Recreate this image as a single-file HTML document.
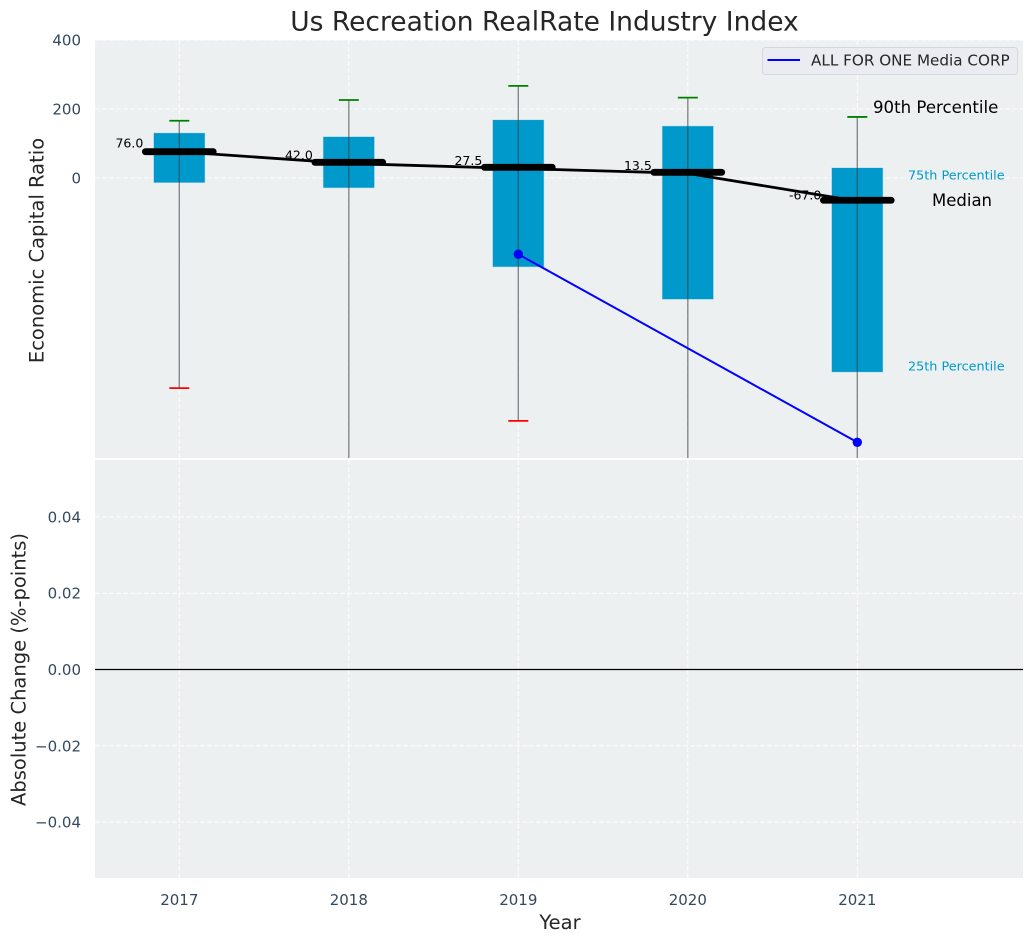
<!DOCTYPE html>
<html lang="en">
<head>
<meta charset="utf-8">
<title>Us Recreation RealRate Industry Index</title>
<style>
html,body{margin:0;padding:0;background:#fff;width:1034px;height:942px;overflow:hidden}
svg{display:block;font-family:"DejaVu Sans","Liberation Sans",sans-serif}
</style>
</head>
<body>
<svg id="chart" xmlns="http://www.w3.org/2000/svg" width="1034" height="942" viewBox="0 0 1034 942">
  <defs>
    <clipPath id="top-clip"><rect x="95" y="40" width="928" height="418"/></clipPath>
  </defs>
  <rect x="95" y="40" width="928" height="418" fill="#ecf0f1"/>
  <rect x="95" y="460" width="928" height="418" fill="#ecf0f1"/>
  <g id="grid"></g>
  <g id="plot" clip-path="url(#top-clip)"></g>
  <g id="bottom"></g>
  <g id="ticks"></g>

  <text x="544.5" y="30.5" text-anchor="middle" font-size="26.5px" fill="#262626">Us Recreation RealRate Industry Index</text>
  <text transform="translate(43.5,250.5) rotate(-90)" text-anchor="middle" font-size="19.5px" fill="#262626">Economic Capital Ratio</text>
  <text transform="translate(25.5,669.5) rotate(-90)" text-anchor="middle" font-size="19.5px" fill="#262626">Absolute Change (%-points)</text>
  <text x="560" y="929" text-anchor="middle" font-size="19.5px" fill="#262626">Year</text>

  <text x="873" y="113" font-size="16.6px" fill="#000">90th Percentile</text>
  <text x="908" y="179.5" font-size="12.8px" fill="#0099cc">75th Percentile</text>
  <text x="932" y="206" font-size="16.5px" fill="#000">Median</text>
  <text x="908" y="370.5" font-size="12.8px" fill="#0099cc">25th Percentile</text>

  <g>
    <rect x="762.5" y="47.5" width="255" height="27" rx="3" fill="#eaecf1" stroke="#d6d8dc" stroke-width="1"/>
    <line x1="767.5" x2="800" y1="60" y2="60" stroke="#0000ff" stroke-width="2"/>
    <text x="811" y="65.5" font-size="15.2px" fill="#262626">ALL FOR ONE Media CORP</text>
  </g>
</svg>
<script>
// ---- chart data ----
const years = [2017, 2018, 2019, 2020, 2021];
const p90 = [166, 226, 267, 233, 177];
const p75 = [130, 119, 168, 150, 29];
const medians = [76.2, 45.5, 31, 16.5, -64.6];
const trendValues = [76, 42, 27.5, 13.5, -67];
const trendLabels = ["76.0", "42.0", "27.5", "13.5", "-67.0"];
const p25 = [-13, -28, -257, -351, -562];
const p10 = [-609, -900, -704, -900, -900];
const companyValues = [null, null, -221, null, -766];
const topTicks = [400, 200, 0];
const bottomTicks = [0.04, 0.02, 0, -0.02, -0.04];
const bottomTickLabels = ["0.04", "0.02", "0.00", "\u22120.02", "\u22120.04"];

// ---- axis functions ----
const NS = "http://www.w3.org/2000/svg";
const xScale = v => 179.3 + (v - 2017) * 169.5;
const yTop = v => 178 - v * 0.345;
const yBottom = v => 669.5 - v * 3815;

function make(parent, tag, attrs, text) {
  const el = document.createElementNS(NS, tag);
  for (const k in attrs) el.setAttribute(k, attrs[k]);
  if (text !== undefined) el.textContent = text;
  parent.appendChild(el);
  return el;
}
const grid = document.getElementById("grid");
const plot = document.getElementById("plot");
const bottom = document.getElementById("bottom");
const ticks = document.getElementById("ticks");
const gridStyle = {stroke: "#ffffff", "stroke-width": 1, "stroke-dasharray": "5,2", opacity: 0.9};

// grid and tick labels
years.forEach(y => {
  const x = xScale(y);
  const a = make(grid, "line", {x1: x, x2: x, y1: 40, y2: 458, ...gridStyle});
  
  
  const b = make(grid, "line", {x1: x, x2: x, y1: 460, y2: 878, ...gridStyle});
  
  
  const t = make(ticks, "text", {x: x, y: 905, "text-anchor": "middle", "font-size": "15px", fill: "#34495e"}, String(y));
  
  
});
topTicks.forEach(v => {
  const y = yTop(v);
  const l = make(grid, "line", {x1: 95, x2: 1023, y1: y, y2: y, ...gridStyle});
  
  
  const t = make(ticks, "text", {x: 81, y: y + 5.5, "text-anchor": "end", "font-size": "15px", fill: "#34495e"}, String(v));
  
  
});
bottomTicks.forEach((v, i) => {
  const y = yBottom(v);
  const l = make(grid, "line", {x1: 95, x2: 1023, y1: y, y2: y, ...gridStyle});
  
  
  const t = make(ticks, "text", {x: 81, y: y + 5.5, "text-anchor": "end", "font-size": "15px", fill: "#34495e"}, bottomTickLabels[i]);
  
  
});

// boxes
years.forEach((yr, i) => {
  const x = xScale(yr);
  const top = yTop(p75[i]), bot = yTop(p25[i]);
  const box = make(plot, "rect", {x: x - 25.4, y: top, width: 50.8, height: bot - top, fill: "#0099cc", stroke: "#0099cc", "stroke-opacity": 0.25, "stroke-width": 1});
  
  
});
// value labels (beneath the trend line)
years.forEach((yr, i) => {
  const v = trendValues[i];
  const lbl = make(plot, "text", {x: xScale(yr) - 36, y: yTop(v) - 3 - 0.02 * v, "text-anchor": "end", "font-size": "12.5px", fill: "#000"}, trendLabels[i]);
  
  
});
// trend line
const trend = make(plot, "polyline", {points: years.map((yr, i) => xScale(yr) + "," + yTop(trendValues[i])).join(" "), fill: "none", stroke: "#000", "stroke-width": 2.8});


// whiskers and caps
years.forEach((yr, i) => {
  const x = xScale(yr);
  const w = make(plot, "line", {x1: x, x2: x, y1: yTop(p90[i]), y2: yTop(p10[i]), stroke: "#3a3f42", "stroke-opacity": 0.6, "stroke-width": 1.4});
  
  
  const c1 = make(plot, "line", {x1: x - 10, x2: x + 10, y1: yTop(p90[i]), y2: yTop(p90[i]), stroke: "#008000", "stroke-width": 1.8});
  
  
  const c2 = make(plot, "line", {x1: x - 10, x2: x + 10, y1: yTop(p10[i]), y2: yTop(p10[i]), stroke: "#ff0000", "stroke-width": 1.8});
  
  
  const m = make(plot, "line", {x1: x - 33.9, x2: x + 33.9, y1: yTop(medians[i]), y2: yTop(medians[i]), stroke: "#000", "stroke-width": 6.8, "stroke-linecap": "round"});
  
  
});
// company series
const pts = years.map((yr, i) => [yr, companyValues[i]]).filter(p => p[1] !== null);
const companyLine = make(plot, "polyline", {points: pts.map(p => xScale(p[0]) + "," + yTop(p[1])).join(" "), fill: "none", stroke: "#0000ff", "stroke-width": 2});


pts.forEach(p => {
  const d = make(plot, "circle", {cx: xScale(p[0]), cy: yTop(p[1]), r: 4.7, fill: "#0000ff"});
  
  
});
// zero line in lower panel
const zero = make(bottom, "line", {x1: 95, x2: 1023, y1: yBottom(0), y2: yBottom(0), stroke: "#000", "stroke-width": 1.2});


</script>
</body>
</html>
